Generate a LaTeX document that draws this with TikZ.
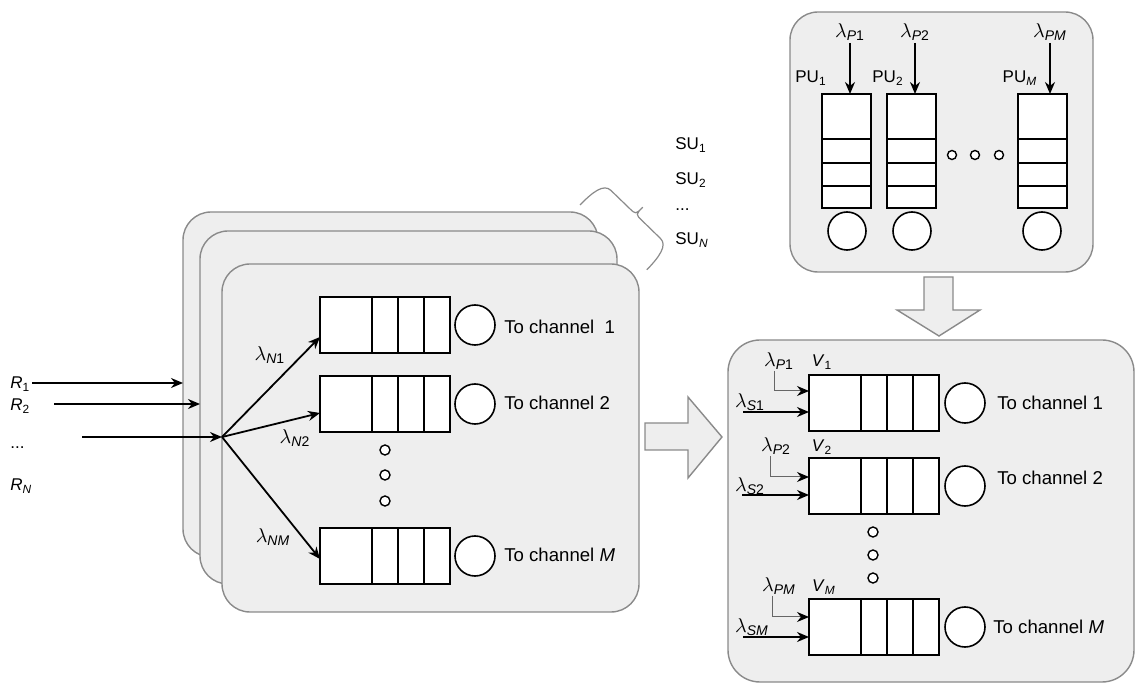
\documentclass[tikz,border=0pt]{standalone}
\usepackage{fontspec}
\setmainfont{Liberation Sans}
\usetikzlibrary{calc}
\usetikzlibrary{arrows.meta}
\definecolor{panelgray}{HTML}{EEEEEE}
\definecolor{edgegray}{HTML}{8A8A8A}
\tikzset{
	panelstyle/.style={draw=edgegray, fill=panelgray, line width=0.7pt, rounded corners=14pt},
	cellstyle/.style={draw=black, fill=white, line width=0.9pt, inner sep=0pt, outer sep=0pt},
	servstyle/.style={circle, draw=black, fill=white, line width=0.8pt, minimum size=20pt, inner sep=0pt},
	dotstyle/.style={circle, draw=black, fill=white, line width=0.7pt, minimum size=5pt, inner sep=0pt},
	bigarrow/.style={draw=edgegray, fill=panelgray, line width=0.7pt},
	arrowline/.style={-{Stealth[length=6pt,width=5pt]}, line width=0.9pt},
	thinarrow/.style={-{Stealth[length=6pt,width=5pt,color=black]}, draw=black!60, line width=0.5pt},
	lamstyle/.style={font=\fontsize{10}{11}\selectfont},
	txtstyle/.style={font=\fontsize{9.3}{10}\selectfont}
}
\newcommand{\lam}[1]{$\lambda$\textsubscript{#1}}
\newcommand{\hqueue}[3]{%
	\node[cellstyle, anchor=north west, minimum width=65pt, minimum height=28pt] (#1) at (#2,#3) {};
	\foreach \d in {52,78,104}
		\draw[line width=0.9pt] ($(#1.north west)+(\d,0)$) -- ($(#1.south west)+(\d,0)$);
}
\newcommand{\vqueue}[3]{%
	\node[cellstyle, anchor=north west, minimum width=24.5pt, minimum height=57pt] (#1) at (#2,#3) {};
	\foreach \d in {45,69,92}
		\draw[line width=0.9pt] ($(#1.north west)+(0,\d)$) -- ($(#1.north east)+(0,\d)$);
}

\begin{document}
\begin{tikzpicture}[x=0.5pt, y=-0.5pt, font=\fontsize{8.5}{10}\selectfont, every node/.style={inner sep=0pt}]
	\useasboundingbox (0,0) rectangle (1137,684);

	% stack of SU panels
	\draw[panelstyle] (183,212) rectangle (598,557);
	\draw[panelstyle] (200,231) rectangle (617,584);
	\draw[panelstyle] (222,264) rectangle (639,612);

	\hqueue{q1}{320}{297}
	\hqueue{q2}{320}{376}
	\hqueue{qm}{320}{528}
	\node[servstyle] (s1) at (475,325) {};
	\node[servstyle] (s2) at (475,404) {};
	\node[servstyle] (sm) at (475,556) {};
	\node[txtstyle, anchor=west] (t1) at (504,327) {To channel\ \ 1};
	\node[txtstyle, anchor=west] (t2) at (504,403) {To channel 2};
	\node[txtstyle, anchor=west] (tm) at (504,555) {To channel \textit{M}};
	\node[dotstyle] (d1) at (385,450) {};
	\node[dotstyle] (d2) at (385,475) {};
	\node[dotstyle] (d3) at (385,501) {};

	% arrivals
	\node[anchor=west] (r1) at (10,384) {\textit{R}\textsubscript{1}};
	\node[anchor=west] (r2) at (10,406) {\textit{R}\textsubscript{2}};
	\node[anchor=west] (rdots) at (10,448) {...};
	\node[anchor=west] (rn) at (10,486) {\textit{R}\textsubscript{\textit{N}}};
	\coordinate (in1) at (32,383);
	\coordinate (in2) at (54,404);
	\coordinate (in3) at (82,437);
	\coordinate (e1) at (183,383);
	\coordinate (e2) at (200,404);
	\coordinate (hub) at (222,437);
	\draw[arrowline] (in1) -- (e1);
	\draw[arrowline] (in2) -- (e2);
	\draw[arrowline] (in3) -- (hub);
	\draw[arrowline] (hub) -- ($(q1.west)+(0,12)$);
	\draw[arrowline] (hub) -- ($(q2.west)+(0,9)$);
	\draw[arrowline] (hub) -- ($(qm.west)+(0,3)$);
	\node[lamstyle] (ln1) at (270,355) {\lam{\textit{N}1}};
	\node[lamstyle] (ln2) at (295,438) {\lam{\textit{N}2}};
	\node[lamstyle] (lnm) at (273,537) {\lam{\textit{NM}}};

	% brace and SU labels
	\draw[edgegray, line width=0.6pt] (580,205) .. controls (592.5,192.1) and (603.7,183.4) .. (610.9,190.4)
		-- (629.6,208.5) .. controls (635.7,214.4) .. (642.7,207.2)
		.. controls (635.7,214.4) .. (641.8,220.3) -- (660.5,238.5)
		.. controls (667.6,245.4) and (659.3,256.9) .. (646.8,269.8);
	\node[anchor=west] (su1) at (675,145) {SU\textsubscript{1}};
	\node[anchor=west] (su2) at (675,180) {SU\textsubscript{2}};
	\node[anchor=west] (sudots) at (675,210) {...};
	\node[anchor=west] (sun) at (675,240) {SU\textsubscript{\textit{N}}};

	% big arrows
	\draw[bigarrow] (645,423) -- (688,423) -- (688,397) -- (722,437) -- (688,478) -- (688,450) -- (645,450) -- cycle;
	\draw[bigarrow] (924,277) -- (953,277) -- (953,310) -- (980,310) -- (939,336) -- (897,310) -- (924,310) -- cycle;

	% PU panel
	\draw[panelstyle] (790,12) rectangle (1093,272);
	\vqueue{p1}{822}{94}
	\vqueue{p2}{887}{94}
	\vqueue{pm}{1018}{94}
	\node[servstyle, minimum size=19pt] (c1) at (847,231) {};
	\node[servstyle, minimum size=19pt] (c2) at (912,231) {};
	\node[servstyle, minimum size=19pt] (cm) at (1042,231) {};
	\node[dotstyle, minimum size=4.5pt] (h1) at (952,155) {};
	\node[dotstyle, minimum size=4.5pt] (h2) at (975,155) {};
	\node[dotstyle, minimum size=4.5pt] (h3) at (999,155) {};
	\node[lamstyle] (lp1) at (850,32) {\lam{\textit{P}1}};
	\node[lamstyle] (lp2) at (915,32) {\lam{\textit{P}2}};
	\node[lamstyle] (lpm) at (1050,32) {\lam{\textit{PM}}};
	\draw[arrowline] ([yshift=-1pt]lp1.south) -- (lp1.south |- p1.north);
	\draw[arrowline] ([yshift=-1pt]lp2.south) -- (lp2.south |- p2.north);
	\draw[arrowline] ([yshift=-1pt]lpm.south) -- (lpm.south |- pm.north);
	\node (pu1) at (811,78) {PU\textsubscript{1}};
	\node (pu2) at (888,78) {PU\textsubscript{2}};
	\node (pum) at (1020,78) {PU\textsubscript{\textit{M}}};

	% virtual queues
	\draw[panelstyle, rounded corners=16pt] (728,340) rectangle (1134,682);
	\hqueue{v1}{809}{375}
	\hqueue{v2}{809}{458}
	\hqueue{vm}{809}{599}
	\node[servstyle] (w1) at (965,403) {};
	\node[servstyle] (w2) at (965,486) {};
	\node[servstyle] (wm) at (965,627) {};
	\node[txtstyle, anchor=west] (u1) at (997,403) {To channel 1};
	\node[txtstyle, anchor=west] (u2) at (997,478) {To channel 2};
	\node[txtstyle, anchor=west] (um) at (993,627) {To channel \textit{M}};
	\node[dotstyle] (k1) at (873,532) {};
	\node[dotstyle] (k2) at (873,555) {};
	\node[dotstyle] (k3) at (873,578) {};

	\node[lamstyle] (lvp1) at (779,361) {\lam{\textit{P}1}};
	\node[lamstyle] (lvp2) at (776,446) {\lam{\textit{P}2}};
	\node[lamstyle] (lvpm) at (779,586) {\lam{\textit{PM}}};
	\node[lamstyle] (lvs1) at (750,402) {\lam{\textit{S}1}};
	\node[lamstyle] (lvs2) at (750,486) {\lam{\textit{S}2}};
	\node[lamstyle] (lvsm) at (752,627) {\lam{\textit{SM}}};
	\node (nv1) at (822,362) {\textit{V}\textsubscript{1}};
	\node (nv2) at (822,447) {\textit{V}\textsubscript{2}};
	\node (nvm) at (824,587) {\textit{V}\textsubscript{\textit{M}}};

	\coordinate (a1) at (743,412);
	\coordinate (a2) at (742,495);
	\coordinate (am) at (743,637);
	\draw[arrowline] (a1) -- ($(v1.west)+(0,9)$);
	\draw[arrowline] (a2) -- ($(v2.west)+(0,9)$);
	\draw[arrowline] (am) -- ($(vm.west)+(0,10)$);
	\draw[thinarrow] ($(lvp1.south)+(-5,1)$) |- ($(v1.west)+(0,-12)$);
	\draw[thinarrow] ($(lvp2.south)+(-6,1)$) |- ($(v2.west)+(0,-9)$);
	\draw[thinarrow] ($(lvpm.south)+(-7,1)$) |- ($(vm.west)+(0,-10)$);
\end{tikzpicture}
\end{document}
